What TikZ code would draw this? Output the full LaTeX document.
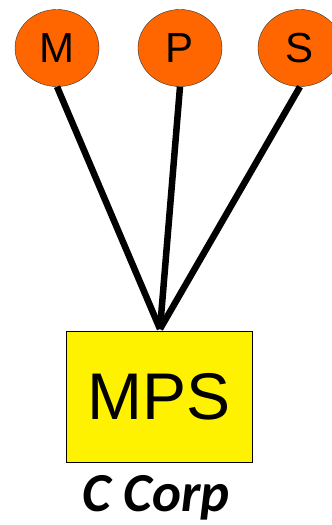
\documentclass[tikz,border=0pt]{standalone}
\usepackage{fontspec}
\setmainfont{Liberation Sans}
\newfontfamily\corpfont{Carlito}
\usetikzlibrary{shapes.geometric, positioning}
\definecolor{shareorange}{HTML}{FF6600}

\begin{document}
\begin{tikzpicture}[x=1pt, y=-1pt,
    holder/.style={ellipse, draw=black!80, thin, fill=shareorange, minimum width=84pt, minimum height=77pt, inner sep=0pt, font=\fontsize{42}{42}\selectfont},
    corp/.style={rectangle, draw=black, thin, fill=yellow, minimum width=186pt, minimum height=131pt, inner sep=0pt, font=\fontsize{66}{66}\selectfont},
    link/.style={line width=6.5pt}]
      \useasboundingbox (0,0) rectangle (332,525);
      \node[holder] (m) at (57,48) {M};
      \node[holder] (p) at (180,48) {P};
      \node[holder] (s) at (300,48) {S};
      \node[corp] (mps) at (159,396.5) {MPS};
      \node[font=\corpfont\bfseries\itshape\fontsize{55}{55}\selectfont] (ccorp) at (156,498) {C Corp};
      \coordinate (apex) at (160,329);
      % owners to the corporation
      \foreach \o in {m, p, s} {
        \draw[link] (\o.south) -- (apex);
      }
    \end{tikzpicture}
\end{document}
